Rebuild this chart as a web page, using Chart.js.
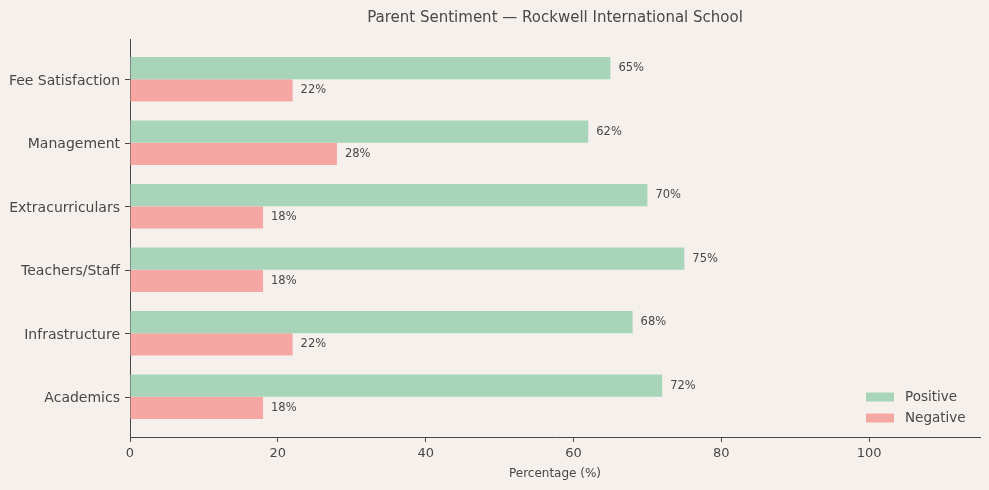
<!DOCTYPE html>
<html>
<head>
<meta charset="utf-8">
<script src="https://cdn.jsdelivr.net/npm/chart.js@4/dist/chart.umd.min.js"></script>
<style>
  html, body { margin: 0; padding: 0; background: #f5f0eb; }
  #wrap { width: 989px; height: 490px; }
</style>
</head>
<body>
<div id="wrap"><canvas id="c" width="989" height="490"></canvas></div>
<script>
const categories = ["Academics", "Infrastructure", "Teachers/Staff", "Extracurriculars", "Management", "Fee Satisfaction"];
const positive = [72, 68, 75, 70, 62, 65];
const negative = [18, 22, 18, 18, 28, 22];
const xTicks = [0, 20, 40, 60, 80, 100];
const seriesNames = ["Positive", "Negative"];
const seriesColors = ["#a8d5ba", "#f5a8a3"];

const FONT = "'DejaVu Sans', sans-serif";
const TEXT = "#484848";

const toPoints = arr => arr.map((v, i) => ({ x: v, y: i }));

const labelPlugin = {
  id: 'valueLabels',
  afterDatasetsDraw(chart) {
    const ctx = chart.ctx;
    ctx.save();
    ctx.font = "11.5px " + FONT;
    ctx.fillStyle = TEXT;
    ctx.textAlign = 'left';
    ctx.textBaseline = 'middle';
    chart.data.datasets.forEach((ds, di) => {
      const meta = chart.getDatasetMeta(di);
      meta.data.forEach((bar, i) => {
        ctx.fillText(ds.data[i].x + "%", bar.x + 8, bar.y);
      });
    });
    ctx.restore();
  }
};

const yTickMarks = {
  id: 'yTickMarks',
  afterDraw(chart) {
    const ctx = chart.ctx;
    const ys = chart.scales.y;
    const left = chart.chartArea.left;
    ctx.save();
    ctx.strokeStyle = TEXT;
    ctx.lineWidth = 1;
    ctx.beginPath();
    categories.forEach((c, i) => {
      const y = Math.round(ys.getPixelForValue(i)) + 0.5;
      ctx.moveTo(left - 5, y);
      ctx.lineTo(left, y);
    });
    ctx.stroke();
    ctx.restore();
  }
};

const legendPlugin = {
  id: 'insideLegend',
  afterDraw(chart) {
    const ctx = chart.ctx;
    const area = chart.chartArea;
    ctx.save();
    ctx.font = "13.5px " + FONT;
    ctx.textBaseline = 'middle';
    ctx.textAlign = 'left';
    const x0 = area.right - 114;
    const y0 = area.bottom - 40;
    seriesNames.forEach((name, i) => {
      const y = y0 + i * 21;
      ctx.fillStyle = seriesColors[i];
      ctx.fillRect(x0, y - 4.5, 28, 9);
      ctx.fillStyle = TEXT;
      ctx.fillText(name, x0 + 39, y);
    });
    ctx.restore();
  }
};

new Chart(document.getElementById('c'), {
  type: 'bar',
  data: {
    datasets: [
      { label: seriesNames[0], data: toPoints(positive), backgroundColor: seriesColors[0], borderWidth: 0, categoryPercentage: 0.7, barPercentage: 1.0 },
      { label: seriesNames[1], data: toPoints(negative), backgroundColor: seriesColors[1], borderWidth: 0, categoryPercentage: 0.7, barPercentage: 1.0 }
    ]
  },
  options: {
    indexAxis: 'y',
    responsive: false,
    animation: false,
    layout: { padding: { left: 0, right: 9, top: 0, bottom: 0 } },
    plugins: {
      legend: { display: false },
      tooltip: { enabled: false },
      title: {
        display: true,
        text: 'Parent Sentiment — Rockwell International School',
        fullSize: false,
        color: TEXT,
        font: { family: FONT, size: 15, weight: 'normal' },
        padding: { top: 9, bottom: 12 }
      }
    },
    scales: {
      x: {
        type: 'linear',
        min: 0,
        max: 115,
        afterBuildTicks: s => { s.ticks = xTicks.map(v => ({ value: v })); },
        afterFit: s => { s.height = 53; },
        ticks: { color: TEXT, font: { family: FONT, size: 13 }, padding: 4, maxRotation: 0 },
        grid: { drawOnChartArea: false, drawTicks: true, tickLength: 5, color: TEXT, tickWidth: 1 },
        border: { display: true, color: TEXT, width: 1 },
        title: { display: true, text: 'Percentage (%)', color: TEXT, font: { family: FONT, size: 12 }, padding: { top: 2, bottom: 9 } }
      },
      y: {
        type: 'linear',
        offset: false,
        min: -0.635,
        max: 5.635,
        afterBuildTicks: s => { s.ticks = categories.map((c, i) => ({ value: i })); },
        afterFit: s => { s.width = 130; },
        ticks: { color: TEXT, font: { family: FONT, size: 14 }, padding: 10, labelOffset: 2, callback: v => categories[v] },
        grid: { offset: false, display: true, drawOnChartArea: false, drawTicks: false, color: TEXT },
        border: { display: true, color: TEXT, width: 1 }
      }
    }
  },
  plugins: [labelPlugin, yTickMarks, legendPlugin]
});
</script>
</body>
</html>
